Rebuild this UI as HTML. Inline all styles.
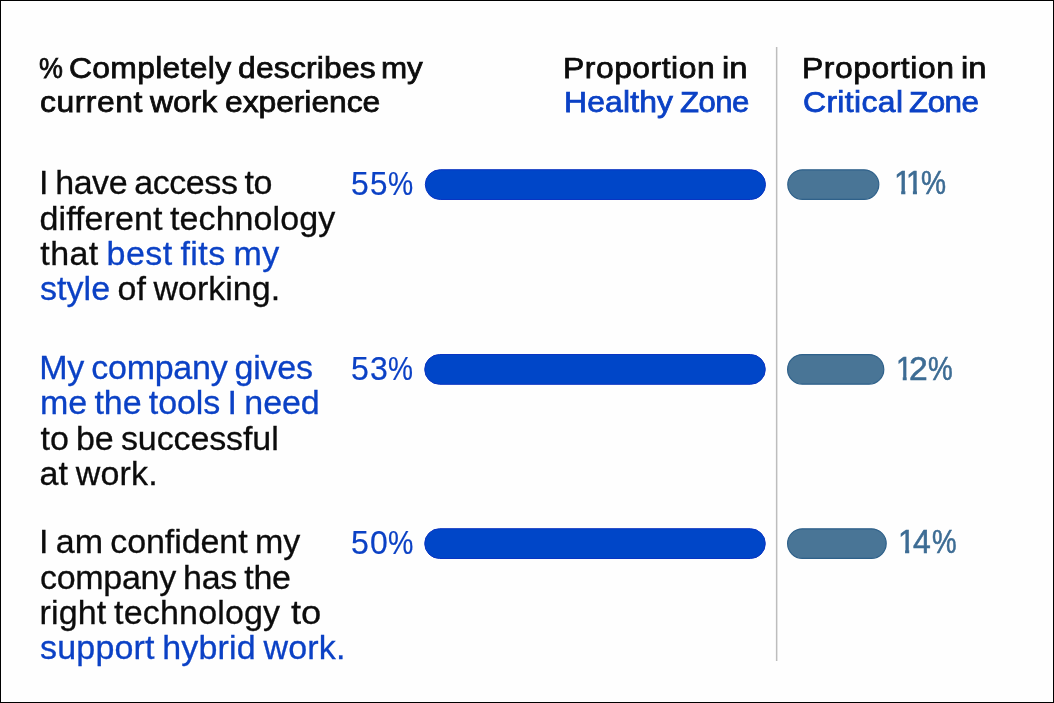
<!DOCTYPE html>
<html lang="en">
<head>
<meta charset="utf-8">
<title>Work experience chart</title>
<style>
html,body{margin:0;padding:0;background:#fefefe;}
body{width:1054px;height:703px;position:relative;overflow:hidden;font-family:"Liberation Sans",Arial,Helvetica,sans-serif;}
.ln{position:absolute;left:0;white-space:pre;line-height:40px;height:40px;margin:0;padding:0;}
.ln span{position:absolute;top:0;transform-origin:0 50%;}
.ln b{font-weight:inherit;color:#0b41c5;}
.ln i{font-style:normal;color:#0c0c0c;}
.num span{position:static;display:inline-block;}
.num .one{clip-path:polygon(0 0,100% 0,100% 27.6px,11.75px 27.6px,11.75px 100%,7.4px 100%,7.4px 27.6px,0 27.6px);}
.gfx{position:absolute;left:0;top:0;}
.frame{position:absolute;left:0;top:0;width:1052px;height:701px;border:1px solid #000;pointer-events:none;}
</style>
</head>
<body>
<svg class="gfx" width="1054" height="703" viewBox="0 0 1054 703">
<rect x="775.9" y="47" width="1.5" height="614" fill="#bdbdbd"/>
<rect x="425.3" y="169.7" width="340.2" height="29.8" rx="14.90" fill="#0046c8" stroke="#0a34c2" stroke-width="1"/>
<rect x="787.8" y="169.8" width="91.0" height="29.6" rx="14.80" fill="#497596" stroke="#2f618a" stroke-width="1.2"/>
<rect x="424.7" y="354.5" width="340.6" height="29.8" rx="14.90" fill="#0046c8" stroke="#0a34c2" stroke-width="1"/>
<rect x="787.6" y="354.6" width="96.2" height="29.6" rx="14.80" fill="#497596" stroke="#2f618a" stroke-width="1.2"/>
<rect x="424.7" y="528.7" width="340.6" height="29.8" rx="14.90" fill="#0046c8" stroke="#0a34c2" stroke-width="1"/>
<rect x="787.6" y="528.8" width="98.6" height="29.6" rx="14.80" fill="#497596" stroke="#2f618a" stroke-width="1.2"/>
</svg>
<div class="ln" style="top:48px;font-size:29.5px;color:#0c0c0c;-webkit-text-stroke:0.75px currentColor;"><span style="left:38.57px;transform:scaleX(0.912);">% </span><span style="left:69.05px;letter-spacing:0.28px;transform:scaleX(1.080);">Completely </span><span style="left:238.10px;letter-spacing:0.16px;transform:scaleX(1.080);">describes </span><span style="left:381.28px;transform:scaleX(1.063);">my</span></div>
<div class="ln" style="top:82px;font-size:29.5px;color:#0c0c0c;-webkit-text-stroke:0.75px currentColor;"><span style="left:39.80px;letter-spacing:0.48px;transform:scaleX(1.080);">current </span><span style="left:150.10px;transform:scaleX(1.080);">work </span><span style="left:224.80px;letter-spacing:-0.06px;transform:scaleX(1.080);">experience</span></div>
<div class="ln" style="top:48px;font-size:29.5px;color:#0c0c0c;-webkit-text-stroke:0.75px currentColor;"><span style="left:563.25px;letter-spacing:0.48px;transform:scaleX(1.080);">Proportion </span><span style="left:721.80px;transform:scaleX(1.113);">in</span></div>
<div class="ln" style="top:82px;font-size:29.5px;color:#0b41c5;-webkit-text-stroke:0.75px currentColor;"><span style="left:564.05px;letter-spacing:0.15px;transform:scaleX(1.080);">Healthy </span><span style="left:680.31px;letter-spacing:-0.50px;transform:scaleX(1.055);">Zone</span></div>
<div class="ln" style="top:48px;font-size:29.5px;color:#0c0c0c;-webkit-text-stroke:0.75px currentColor;"><span style="left:802.05px;letter-spacing:0.50px;transform:scaleX(1.080);">Proportion </span><span style="left:961.20px;transform:scaleX(1.113);">in</span></div>
<div class="ln" style="top:82px;font-size:29.5px;color:#0b41c5;-webkit-text-stroke:0.75px currentColor;"><span style="left:802.65px;letter-spacing:0.35px;transform:scaleX(1.080);">Critical </span><span style="left:909.21px;letter-spacing:-0.50px;transform:scaleX(1.065);">Zone</span></div>
<div class="ln" style="top:162px;font-size:34.0px;color:#0c0c0c;-webkit-text-stroke:0.3px currentColor;word-spacing:-2.0px;"><span style="left:39.10px;letter-spacing:-0.42px;">I have access to</span></div>
<div class="ln" style="top:198px;font-size:34.0px;color:#0c0c0c;-webkit-text-stroke:0.3px currentColor;word-spacing:-2.0px;"><span style="left:39.55px;letter-spacing:0.08px;">different technology</span></div>
<div class="ln" style="top:233px;font-size:34.0px;color:#0c0c0c;-webkit-text-stroke:0.3px currentColor;word-spacing:-2.0px;"><span style="left:40.25px;letter-spacing:0.43px;">that <b>best fits my</b></span></div>
<div class="ln" style="top:268px;font-size:34.0px;color:#0c0c0c;-webkit-text-stroke:0.3px currentColor;word-spacing:-2.0px;"><span style="left:40.05px;letter-spacing:0.02px;"><b>style</b> of working.</span></div>
<div class="ln" style="top:347px;font-size:34.0px;color:#0b41c5;-webkit-text-stroke:0.3px currentColor;word-spacing:-2.0px;"><span style="left:39.25px;letter-spacing:-0.26px;">My company gives</span></div>
<div class="ln" style="top:382px;font-size:34.0px;color:#0b41c5;-webkit-text-stroke:0.3px currentColor;word-spacing:-2.0px;"><span style="left:40.00px;letter-spacing:-0.08px;">me the tools I need</span></div>
<div class="ln" style="top:418px;font-size:34.0px;color:#0c0c0c;-webkit-text-stroke:0.3px currentColor;word-spacing:-2.0px;"><span style="left:40.55px;letter-spacing:-0.11px;">to be successful</span></div>
<div class="ln" style="top:453px;font-size:34.0px;color:#0c0c0c;-webkit-text-stroke:0.3px currentColor;word-spacing:-2.0px;"><span style="left:39.55px;letter-spacing:0.16px;">at work.</span></div>
<div class="ln" style="top:521px;font-size:34.0px;color:#0c0c0c;-webkit-text-stroke:0.3px currentColor;word-spacing:-2.0px;"><span style="left:39.10px;letter-spacing:-0.08px;">I am confident my</span></div>
<div class="ln" style="top:557px;font-size:34.0px;color:#0c0c0c;-webkit-text-stroke:0.3px currentColor;word-spacing:-2.0px;"><span style="left:39.95px;letter-spacing:-0.28px;">company has the</span></div>
<div class="ln" style="top:592px;font-size:34.0px;color:#0c0c0c;-webkit-text-stroke:0.3px currentColor;word-spacing:-2.0px;"><span style="left:39.50px;letter-spacing:0.17px;">right technology </span><span style="left:291.23px;transform:scaleX(1.069);">to</span></div>
<div class="ln" style="top:627px;font-size:34.0px;color:#0b41c5;-webkit-text-stroke:0.3px currentColor;word-spacing:-2.0px;"><span style="left:40.05px;letter-spacing:0.17px;">support hybrid work.</span></div>
<div class="ln num" style="left:351.42px;top:164px;font-size:32.5px;color:#0b41c5;-webkit-text-stroke:0.2px currentColor;"><span style="transform:scaleX(0.981);">5</span><span style="margin-left:0.13px;transform:scaleX(0.965);">5</span><span style="margin-left:0.37px;transform:scaleX(0.871);">%</span></div>
<div class="ln num" style="left:351.38px;top:349px;font-size:32.5px;color:#0b41c5;-webkit-text-stroke:0.2px currentColor;"><span style="transform:scaleX(0.987);">5</span><span style="margin-left:0.50px;transform:scaleX(0.987);">3</span><span style="margin-left:-0.12px;transform:scaleX(0.864);">%</span></div>
<div class="ln num" style="left:351.38px;top:523px;font-size:32.5px;color:#0b41c5;-webkit-text-stroke:0.2px currentColor;"><span style="transform:scaleX(0.987);">5</span><span style="margin-left:0.38px;transform:scaleX(0.984);">0</span><span style="margin-left:0.25px;transform:scaleX(0.879);">%</span></div>
<div class="ln num" style="left:893.65px;top:163px;font-size:32.5px;color:#3d6c94;-webkit-text-stroke:0.55px currentColor;"><span class="one" style="transform:scaleX(0.967);">1</span><span class="one" style="margin-left:-5.75px;transform:scaleX(0.933);">1</span><span style="margin-left:-3.00px;transform:scaleX(0.866);">%</span></div>
<div class="ln num" style="left:896.45px;top:349px;font-size:32.5px;color:#3d6c94;-webkit-text-stroke:0.55px currentColor;"><span class="one" style="transform:scaleX(0.911);">1</span><span style="margin-left:-5.62px;transform:scaleX(1.036);">2</span><span style="margin-left:1.25px;transform:scaleX(0.855);">%</span></div>
<div class="ln num" style="left:898.45px;top:522px;font-size:32.5px;color:#3d6c94;-webkit-text-stroke:0.55px currentColor;"><span class="one" style="transform:scaleX(0.956);">1</span><span style="margin-left:-3.75px;transform:scaleX(0.982);">4</span><span style="margin-left:1.25px;transform:scaleX(0.851);">%</span></div>
<div class="frame"></div>
</body>
</html>
